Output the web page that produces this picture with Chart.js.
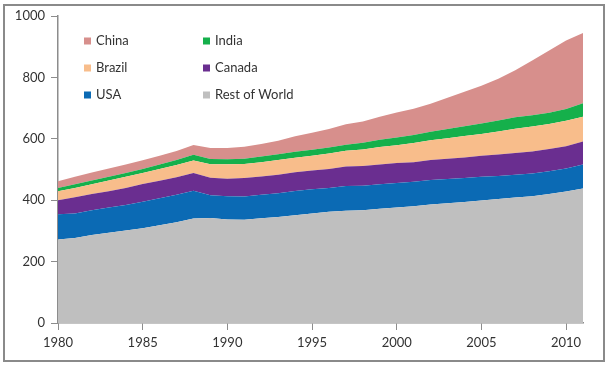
<!DOCTYPE html>
<html>
<head>
<meta charset="utf-8">
<script src="https://cdn.jsdelivr.net/npm/chart.js@4.4.1/dist/chart.umd.min.js"></script>
<style>
  html, body { margin: 0; padding: 0; background: #fff; }
  #wrap { position: relative; width: 611px; height: 365px; }
  #frame { position: absolute; left: 3px; top: 4px; width: 598px; height: 354px; border: 2px solid #8a8a8a; }
  #chart { position: absolute; left: 0; top: 0; }
</style>
</head>
<body>
<div id="wrap">
  <div id="frame"></div>
  <canvas id="chart" width="611" height="365"></canvas>
</div>
<script>
"use strict";

var years = [1980, 1981, 1982, 1983, 1984, 1985, 1986, 1987, 1988, 1989, 1990,
  1991, 1992, 1993, 1994, 1995, 1996, 1997, 1998, 1999, 2000,
  2001, 2002, 2003, 2004, 2005, 2006, 2007, 2008, 2009, 2010, 2011];

var restOfWorld = [272, 277, 287, 294, 301, 309, 318, 328, 340, 342, 337,
  336, 341, 345, 351, 357, 362, 366, 367, 372, 376,
  380, 386, 390, 394, 399, 404, 409, 413, 420, 428, 438];
var usa = [82, 80, 80, 82, 83, 86, 88, 90, 91, 74, 76,
  76, 77, 78, 79, 79, 78, 80, 80, 80, 80,
  80, 80, 79, 78, 77, 75, 74, 74, 74, 75, 78];
var canada = [46, 53, 53, 53, 56, 58, 57, 57, 58, 57, 57,
  60, 59, 60, 61, 61, 62, 64, 64, 64, 65,
  64, 65, 66, 67, 69, 70, 71, 72, 73, 73, 75];
var brazil = [29, 30, 32, 35, 36, 36, 39, 40, 40, 44, 47,
  46, 47, 48, 47, 48, 50, 51, 54, 57, 58,
  62, 64, 67, 70, 71, 75, 79, 81, 81, 83, 81];
var india = [11, 12, 12, 12, 13, 13, 14, 16, 19, 17, 16,
  17, 18, 19, 20, 19, 20, 20, 22, 24, 25,
  26, 28, 30, 32, 34, 36, 37, 37, 37, 38, 44];
var china = [22, 24, 26, 27, 27, 28, 29, 29, 32, 36, 37,
  39, 41, 44, 50, 56, 60, 66, 69, 75, 82,
  86, 91, 102, 112, 123, 136, 153, 178, 203, 223, 229];

var seriesNames = ['Rest of World', 'USA', 'Canada', 'Brazil', 'India', 'China'];
var seriesColors = ['#bfbfbf', '#0b6ab4', '#6a2e90', '#f8bd8b', '#15b04b', '#d78f8c'];
var seriesValues = [restOfWorld, usa, canada, brazil, india, china];

// legend grid as drawn: two columns, three rows
var legendRows = [['China', 'India'], ['Brazil', 'Canada'], ['USA', 'Rest of World']];

var yTicks = [0, 200, 400, 600, 800, 1000];
var xTicks = [1980, 1985, 1990, 1995, 2000, 2005, 2010];

var axisColor = '#8c8c8c';
var fontFamily = 'Lato, "Open Sans", sans-serif';

var datasets = seriesValues.map(function(values, i) {
  return {
    label: seriesNames[i],
    data: values,
    backgroundColor: seriesColors[i],
    borderWidth: 0,
    pointRadius: 0,
    tension: 0,
    fill: i === 0 ? 'origin' : '-1'
  };
});

var gridLegend = {
  id: 'gridLegend',
  afterDatasetsDraw: function(chart) {
    var ctx = chart.ctx;
    var colX = [84, 203];
    var rowY = [41, 68, 95];
    ctx.save();
    ctx.font = '13px ' + fontFamily;
    ctx.textBaseline = 'middle';
    legendRows.forEach(function(row, r) {
      row.forEach(function(name, c) {
        var idx = seriesNames.indexOf(name);
        ctx.fillStyle = seriesColors[idx];
        ctx.fillRect(colX[c], rowY[r] - 3.5, 7, 7);
        ctx.fillStyle = '#333';
        ctx.fillText(name, colX[c] + 12, rowY[r]);
      });
    });
    ctx.restore();
  }
};

new Chart(document.getElementById('chart'), {
  type: 'line',
  data: { labels: years, datasets: datasets },
  plugins: [gridLegend],
  options: {
    responsive: false,
    animation: false,
    layout: { padding: { top: 16, right: 28, bottom: 11, left: 0 } },
    plugins: {
      legend: { display: false },
      tooltip: { enabled: false }
    },
    scales: {
      x: {
        type: 'linear',
        min: 1980,
        max: 2011,
        afterFit: function(scale) { scale.height = 31; },
        afterBuildTicks: function(scale) {
          scale.ticks = xTicks.map(function(v) { return { value: v }; });
        },
        ticks: {
          autoSkip: false,
          maxRotation: 0,
          padding: 5,
          color: '#333',
          font: { family: fontFamily, size: 13 },
          callback: function(v) { return String(v); }
        },
        grid: { drawOnChartArea: false, drawTicks: true, tickLength: 7, color: axisColor },
        border: { color: axisColor, width: 1.5 }
      },
      y: {
        stacked: true,
        min: 0,
        max: 1000,
        afterFit: function(scale) { scale.width = 58; },
        afterBuildTicks: function(scale) {
          scale.ticks = yTicks.map(function(v) { return { value: v }; });
        },
        ticks: {
          padding: 6,
          color: '#333',
          font: { family: fontFamily, size: 13 },
          callback: function(v) { return String(v); }
        },
        grid: { drawOnChartArea: false, drawTicks: true, tickLength: 7, color: axisColor },
        border: { color: axisColor, width: 1.5 }
      }
    }
  }
});
</script>
</body>
</html>
